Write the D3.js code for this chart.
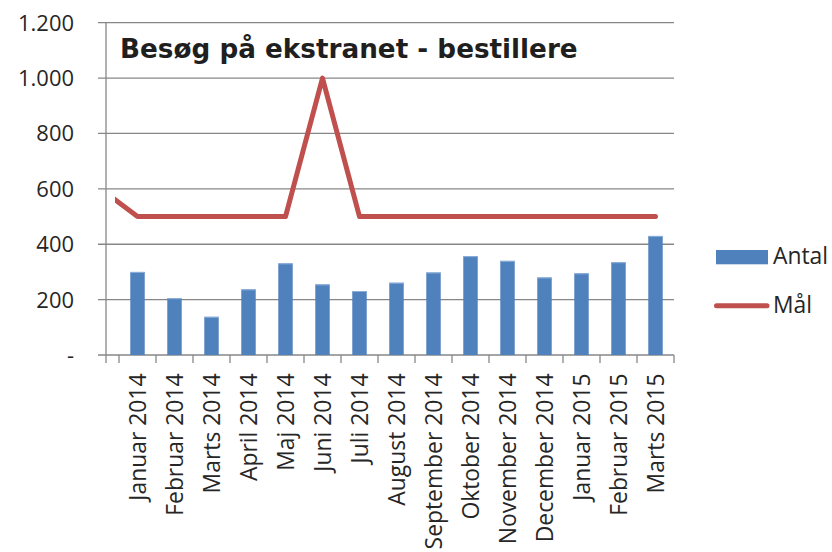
<!DOCTYPE html>
<html>
<head>
<meta charset="utf-8">
<script src="https://cdn.jsdelivr.net/npm/d3@7"></script>
<style>
  html, body { margin: 0; padding: 0; background: #fff; }
  svg { display: block; }
</style>
</head>
<body>
<svg id="chart" width="832" height="552"></svg>
<script>
// ---- data ----
const categories = ["Januar 2014", "Februar 2014", "Marts 2014", "April 2014", "Maj 2014",
  "Juni 2014", "Juli 2014", "August 2014", "September 2014", "Oktober 2014",
  "November 2014", "December 2014", "Januar 2015", "Februar 2015", "Marts 2015"];
const antal = [300, 205, 138, 237, 331, 255, 231, 261, 298, 357, 340, 280, 295, 335, 430];
const maal = [500, 500, 500, 500, 500, 1000, 500, 500, 500, 500, 500, 500, 500, 500, 500];
const maalPrevious = 600; // target of the month before the first category (line enters from the left)
const yTicks = [0, 200, 400, 600, 800, 1000, 1200];
const yTickLabels = ["-", "200", "400", "600", "800", "1.000", "1.200"];
const title = "Besøg på ekstranet - bestillere";
const legendLabels = ["Antal", "Mål"];

// ---- layout ----
const svg = d3.select("#chart");
const axisX = 106, plotRight = 674, gridLeft = 98;
const x = d3.scaleBand().domain(categories).range([119, plotRight]).padding(0);
const y = d3.scaleLinear().domain([0, 1200]).range([355, 22.7]);
const step = x.step();
const cx = d => x(d) + step / 2;

const blue = "#4F81BD", red = "#C0504D", grid = "#878787", textCol = "#262626";
const font = "'Open Sans', sans-serif";

function fit(sel, target) {
  const w = sel.node().getComputedTextLength();
  const fs = parseFloat(sel.attr("font-size"));
  sel.attr("font-size", fs * target / w);
  return fs * target / w;
}

// gridlines
svg.append("g").selectAll("line").data(yTicks).join("line")
  .attr("x1", gridLeft).attr("x2", plotRight)
  .attr("y1", d => y(d)).attr("y2", d => y(d))
  .attr("stroke", grid).attr("stroke-width", 1.3);

// y axis line
svg.append("line").attr("x1", axisX).attr("x2", axisX)
  .attr("y1", y(1200)).attr("y2", y(0) + 8)
  .attr("stroke", grid).attr("stroke-width", 1.3);

// x ticks at band boundaries
const bounds = categories.map(c => x(c)).concat([x(categories[categories.length - 1]) + step]);
svg.append("g").selectAll("line").data(bounds).join("line")
  .attr("x1", d => d).attr("x2", d => d)
  .attr("y1", y(0)).attr("y2", y(0) + 8)
  .attr("stroke", grid).attr("stroke-width", 1.3);

// y labels
const ylab = svg.append("g").selectAll("text").data(yTicks).join("text")
  .attr("x", 74).attr("y", d => y(d))
  .attr("dy", "0.36em")
  .attr("text-anchor", "end")
  .attr("font-family", font).attr("font-size", 23)
  .attr("fill", textCol)
  .text((d, i) => yTickLabels[i]);
const yfs = fit(d3.select(ylab.nodes()[6]), 56);
ylab.attr("font-size", yfs);

// bars
const barW = step * 0.39;
svg.append("g").selectAll("rect").data(antal).join("rect")
  .attr("x", (d, i) => cx(categories[i]) - barW / 2)
  .attr("width", barW)
  .attr("y", d => y(d))
  .attr("height", d => y(0) - y(d))
  .attr("fill", blue);
svg.append("g").selectAll("line").data(antal).join("line")
  .attr("x1", (d, i) => cx(categories[i]) - barW / 2)
  .attr("x2", (d, i) => cx(categories[i]) + barW / 2)
  .attr("y1", d => y(d) + 0.5).attr("y2", d => y(d) + 0.5)
  .attr("stroke", "#8EB0DA").attr("stroke-width", 1);

// target line
svg.append("defs").append("clipPath").attr("id", "lineClip")
  .append("rect").attr("x", 115).attr("y", 0).attr("width", 700).attr("height", 552);
const linePts = [[cx(categories[0]) - step, maalPrevious]].concat(maal.map((v, i) => [cx(categories[i]), v]));
svg.append("path")
  .attr("d", d3.line().x(d => d[0]).y(d => y(d[1]))(linePts))
  .attr("fill", "none").attr("stroke", red).attr("stroke-width", 5)
  .attr("stroke-linejoin", "round").attr("stroke-linecap", "round")
  .attr("clip-path", "url(#lineClip)");

// x labels
const xlab = svg.append("g").selectAll("text").data(categories).join("text")
  .attr("transform", d => `translate(${cx(d)},373.5) rotate(-90)`)
  .attr("dy", "0.36em")
  .attr("text-anchor", "end")
  .attr("font-family", font).attr("font-size", 23)
  .attr("fill", textCol)
  .text(d => d);
const xfs = fit(d3.select(xlab.nodes()[8]), 176);
xlab.attr("font-size", xfs);

// title
const t = svg.append("text").attr("x", 120).attr("y", 58.3)
  .attr("font-family", "'DejaVu Sans', Verdana, sans-serif").attr("font-weight", "bold")
  .attr("font-size", 26).attr("fill", "#1f1f1f").text(title);
fit(t, 458);

// legend
svg.append("rect").attr("x", 716).attr("y", 250).attr("width", 52).attr("height", 14.3).attr("fill", blue);
svg.append("line").attr("x1", 716.5).attr("x2", 767).attr("y1", 305.7).attr("y2", 305.7)
  .attr("stroke", red).attr("stroke-width", 5).attr("stroke-linecap", "round");
const l1 = svg.append("text").attr("x", 773).attr("y", 264.3)
  .attr("font-family", font).attr("font-size", xfs).attr("fill", textCol).text(legendLabels[0]);
svg.append("text").attr("x", 773).attr("y", 312.7)
  .attr("font-family", font).attr("font-size", xfs).attr("fill", textCol).text(legendLabels[1]);
</script>
</body>
</html>
